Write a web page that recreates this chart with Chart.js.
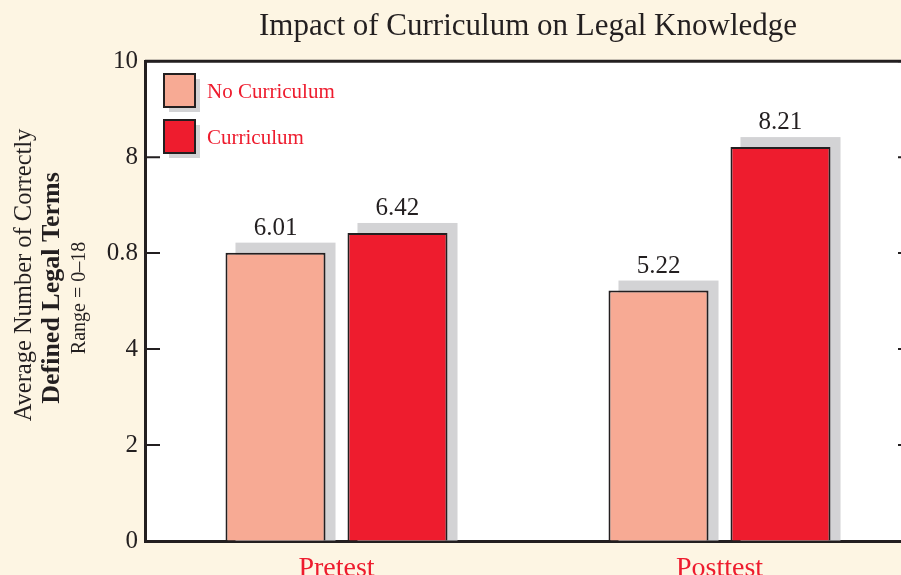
<!DOCTYPE html>
<html>
<head>
<meta charset="utf-8">
<script src="https://cdn.jsdelivr.net/npm/chart.js@4/dist/chart.umd.min.js"></script>
<style>
  html, body { margin: 0; padding: 0; overflow: hidden; background: #fdf5e3; }
  #wrap { width: 915px; height: 575px; }
  canvas { display: block; }
</style>
</head>
<body>
<div id="wrap"><canvas id="legalChart" width="915" height="575"></canvas></div>
<script>
// chart data
const categories = ['Pretest', 'Posttest'];
const noCurriculum = [6.01, 5.22];
const curriculum = [6.42, 8.21];
const seriesNames = ['No Curriculum', 'Curriculum'];
const yTickLabels = ['0', '2', '4', '0.8', '8', '10'];

const INK = '#231f20';
const RED = '#ee1c2e';
const PEACH = '#f7aa94';
const SHADOW = '#d3d3d5';
const SERIF = '"Liberation Serif", "DejaVu Serif", serif';

// white plot area, shadows behind bars, labels, legend
const decorPlugin = {
    id: 'decor',
    beforeDraw(chart) {
        const a = chart.chartArea;
        const ctx = chart.ctx;
        ctx.save();
        ctx.fillStyle = '#ffffff';
        ctx.fillRect(a.left, a.top, a.right - a.left, a.bottom - a.top);
        ctx.restore();
    },
    beforeDatasetsDraw(chart) {
        const ctx = chart.ctx;
        ctx.save();
        ctx.fillStyle = SHADOW;
        chart.data.datasets.forEach((ds, i) => {
            chart.getDatasetMeta(i).data.forEach(bar => {
                const p = bar.getProps(['x', 'y', 'width', 'base'], true);
                ctx.fillRect(p.x - p.width / 2 + 10, p.y - 10, p.width, p.base - p.y + 10);
            });
        });
        ctx.restore();
    },
    afterDatasetsDraw(chart) {
        const ctx = chart.ctx;
        ctx.save();
        ctx.fillStyle = INK;
        ctx.font = '25px ' + SERIF;
        ctx.textAlign = 'center';
        ctx.textBaseline = 'alphabetic';
        chart.data.datasets.forEach((ds, i) => {
            chart.getDatasetMeta(i).data.forEach((bar, j) => {
                const p = bar.getProps(['x', 'y'], true);
                ctx.fillText(ds.data[j].toFixed(2), p.x, p.y - 18);
            });
        });
        ctx.restore();
    },
    afterDraw(chart) {
        const a = chart.chartArea;
        const ctx = chart.ctx;
        const y = chart.scales.y;
        ctx.save();
        // top border
        ctx.strokeStyle = INK;
        ctx.lineWidth = 3;
        ctx.beginPath();
        ctx.moveTo(a.left, a.top);
        ctx.lineTo(a.right, a.top);
        ctx.stroke();
        // inward ticks, left and right
        ctx.lineWidth = 2;
        y.ticks.forEach(t => {
            const py = y.getPixelForValue(t.value);
            ctx.beginPath();
            ctx.moveTo(a.left, py);
            ctx.lineTo(a.left + 15, py);
            ctx.moveTo(a.right, py);
            ctx.lineTo(a.right - 13, py);
            ctx.stroke();
        });
        // legend
        chart.data.datasets.forEach((ds, i) => {
            const bx = 164, by = 74 + i * 46;
            ctx.fillStyle = SHADOW;
            ctx.fillRect(bx + 5, by + 5, 31, 33);
            ctx.fillStyle = ds.backgroundColor;
            ctx.fillRect(bx, by, 31, 33);
            ctx.strokeStyle = INK;
            ctx.lineWidth = 2;
            ctx.strokeRect(bx, by, 31, 33);
            ctx.fillStyle = RED;
            ctx.font = '21px ' + SERIF;
            ctx.textAlign = 'left';
            ctx.textBaseline = 'middle';
            ctx.fillText(ds.label, 207, by + 18);
        });
        // y axis title, three lines
        ctx.fillStyle = INK;
        ctx.textAlign = 'center';
        ctx.textBaseline = 'middle';
        const lines = [
            { text: 'Average Number of Correctly', x: 25, y: 275, font: '24.5px ' + SERIF },
            { text: 'Defined Legal Terms', x: 52, y: 288, font: 'bold 26px ' + SERIF },
            { text: 'Range = 0\u201318', x: 80, y: 298, font: '20px ' + SERIF }
        ];
        lines.forEach(l => {
            ctx.save();
            ctx.translate(l.x, l.y);
            ctx.rotate(-Math.PI / 2);
            ctx.font = l.font;
            ctx.fillText(l.text, 0, 0);
            ctx.restore();
        });
        ctx.restore();
    }
};

new Chart(document.getElementById('legalChart').getContext('2d'), {
    type: 'bar',
    data: {
        labels: categories,
        datasets: [{
            label: seriesNames[0],
            data: noCurriculum,
            backgroundColor: PEACH,
            borderColor: INK,
            borderWidth: 2
        }, {
            label: seriesNames[1],
            data: curriculum,
            backgroundColor: RED,
            borderColor: INK,
            borderWidth: 2
        }]
    },
    options: {
        responsive: false,
        animation: false,
        layout: {padding: {left: 0, right: 4, top: 0, bottom: 0}},
        categoryPercentage: 0.637,
        barPercentage: 0.82,
        plugins: {
            legend: {display: false},
            tooltip: {enabled: false},
            title: {
                display: true,
                fullSize: false,
                text: 'Impact of Curriculum on Legal Knowledge',
                color: INK,
                font: {family: SERIF, size: 31, weight: 'normal'},
                padding: {top: 8, bottom: 16}
            }
        },
        scales: {
            x: {
                grid: {display: false},
                border: {display: true, color: INK, width: 3},
                ticks: {color: RED, font: {family: SERIF, size: 28}, padding: 3},
                afterFit(scale) { scale.height = 34; }
            },
            y: {
                min: 0,
                max: 10,
                grid: {drawOnChartArea: false, drawTicks: false},
                border: {display: true, color: INK, width: 3},
                ticks: {
                    stepSize: 2,
                    color: INK,
                    font: {family: SERIF, size: 25},
                    padding: 7,
                    callback: (v, i) => yTickLabels[i]
                },
                afterFit(scale) { scale.width = 145; }
            }
        }
    },
    plugins: [decorPlugin]
});
</script>
</body>
</html>
